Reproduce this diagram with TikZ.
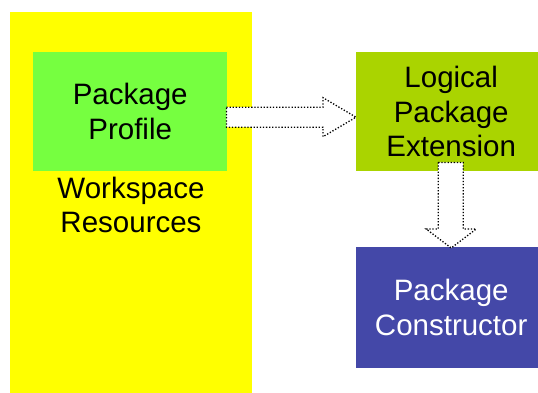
\documentclass[tikz,border=0pt]{standalone}
\usepackage{fontspec}
\setmainfont{Liberation Sans}
\usetikzlibrary{calc}
\definecolor{wsyellow}{RGB}{255,255,0}
\definecolor{profgreen}{RGB}{118,255,64}
\definecolor{extgreen}{RGB}{170,212,0}
\definecolor{ctorblue}{RGB}{68,72,168}
\tikzset{
  box/.style={draw=none, inner sep=0pt, align=center, anchor=north west,
    font=\fontsize{29.5}{34.5}\selectfont},
  label/.style={inner sep=0pt, align=center,
    font=\fontsize{29.5}{34.5}\selectfont},
  blockarrow/.style={fill=white, draw=black, line width=1.3pt,
    dash pattern=on 1.3pt off 1.8pt, line join=miter}
}
\begin{document}
\begin{tikzpicture}[x=1pt, y=-1pt]
  \clip (0,0) rectangle (538,393);
  % workspace area with the profile inside it
  \node[box, fill=wsyellow, minimum width=242pt, minimum height=390pt] (ws) at (10,12) {};
  \node[box, fill=profgreen, minimum width=194pt, minimum height=119pt] (profile) at (33,52) {Package\\Profile};
  \node[label] (wslabel) at (131,205) {Workspace\\Resources};
  % extension and constructor boxes (run past the right edge)
  \node[box, fill=extgreen, minimum width=190pt, minimum height=119pt] (ext) at (356,52) {Logical\\Package\\Extension};
  \node[box, fill=ctorblue, text=white, minimum width=190pt, minimum height=121pt] (ctor) at (356,247) {Package\\Constructor};
  % profile -> extension
  \draw[blockarrow]
    ($(profile.east)+(-1,-4.5)$) -- ($(ext.west)+(-33,-4.5)$)
    -- ($(ext.west)+(-33,-14)$) -- ($(ext.west)+(0,5.5)$)
    -- ($(ext.west)+(-33,25)$) -- ($(ext.west)+(-33,15.5)$)
    -- ($(profile.east)+(-1,15.5)$) -- cycle;
  % extension -> constructor
  \draw[blockarrow]
    ($(ext.south)+(-13,-9)$) -- ($(ext.south)+(12,-9)$)
    -- ($(ctor.north)+(12,-18)$) -- ($(ctor.north)+(25,-18)$)
    -- ($(ctor.north)+(0,1)$) -- ($(ctor.north)+(-25,-18)$)
    -- ($(ctor.north)+(-13,-18)$) -- cycle;
\end{tikzpicture}
\end{document}
